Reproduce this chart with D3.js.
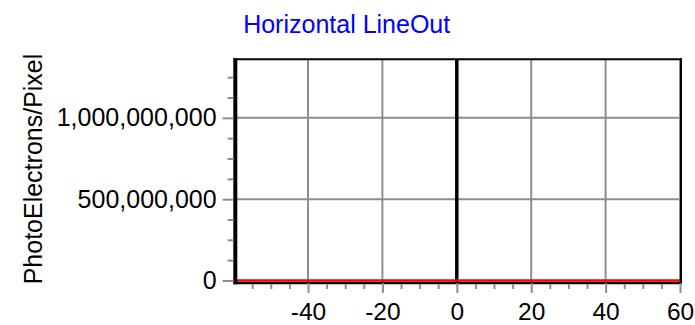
<!DOCTYPE html>
<html>
<head>
<meta charset="utf-8">
<script src="https://cdn.jsdelivr.net/npm/d3@7"></script>
<style>
  body { margin: 0; background: #fff; }
  svg { display: block; }
  text { font-family: "Liberation Sans", Arial, sans-serif; }
</style>
</head>
<body>
<svg id="chart" width="695" height="325"></svg>
<script>
// Horizontal line-out: photo-electron count per pixel along the row
const chartTitle = "Horizontal LineOut";
const yAxisLabel = "PhotoElectrons/Pixel";

const pixelPositions = [-60, -55, -50, -45, -40, -35, -30, -25, -20, -15, -10, -5, 0,
                        5, 10, 15, 20, 25, 30, 35, 40, 45, 50, 55, 60];
const photoElectrons = [0, 0, 0, 0, 0, 0, 0, 0, 0, 0, 0, 0, 0,
                        0, 0, 0, 0, 0, 0, 0, 0, 0, 0, 0, 0];

const xMajorTicks = [-40, -20, 0, 20, 40, 60];
const xMinorTicks = [-55, -50, -45, -35, -30, -25, -15, -10, -5, 5, 10, 15, 25, 30, 35, 45, 50, 55];
const yMajorTicks = [0, 500000000, 1000000000];
const yMinorTicks = [125000000, 250000000, 375000000, 625000000, 750000000, 875000000,
                     1125000000, 1250000000];
const cursorPosition = 0;

const xDomain = [-60, 60];
const yDomain = [0, 1360000000];

const svg = d3.select("#chart");
const plotLeft = 233.6, plotRight = 680, plotTop = 59.3, plotBottom = 280.5;
const axisY = 283;

const x = d3.scaleLinear().domain(xDomain).range([plotLeft, plotRight]);
const y = d3.scaleLinear().domain(yDomain).range([plotBottom, plotTop]);

const gridColor = "#8e8e8e";

// grid
svg.append("g").selectAll("line").data(xMajorTicks).join("line")
  .attr("x1", d => x(d)).attr("x2", d => x(d))
  .attr("y1", plotTop).attr("y2", axisY)
  .attr("stroke", gridColor).attr("stroke-width", 2);
svg.append("g").selectAll("line").data(yMajorTicks.filter(d => d > 0)).join("line")
  .attr("x1", plotLeft).attr("x2", plotRight + 1)
  .attr("y1", d => y(d)).attr("y2", d => y(d))
  .attr("stroke", gridColor).attr("stroke-width", 2);

// frame
svg.append("line").attr("x1", plotLeft).attr("x2", plotRight + 2).attr("y1", plotTop).attr("y2", plotTop)
  .attr("stroke", "#000").attr("stroke-width", 2);
svg.append("line").attr("x1", plotRight + 1).attr("x2", plotRight + 1).attr("y1", plotTop - 1).attr("y2", axisY + 1)
  .attr("stroke", "#000").attr("stroke-width", 2);
svg.append("line").attr("x1", plotLeft).attr("x2", plotRight + 2).attr("y1", axisY).attr("y2", axisY)
  .attr("stroke", "#000").attr("stroke-width", 2.5);

// cursor at the centre column
svg.append("line")
  .attr("x1", x(cursorPosition)).attr("x2", x(cursorPosition))
  .attr("y1", plotTop).attr("y2", axisY)
  .attr("stroke", "#000").attr("stroke-width", 3.5);

// line-out trace
const line = d3.line().x(d => x(d[0])).y(d => y(d[1]));
svg.append("path")
  .datum(pixelPositions.map((p, i) => [p, photoElectrons[i]]))
  .attr("d", line)
  .attr("fill", "none").attr("stroke", "#ff0000").attr("stroke-width", 2.5);

// left axis line
svg.append("line").attr("x1", plotLeft + 1.7).attr("x2", plotLeft + 1.7).attr("y1", plotTop - 1).attr("y2", axisY + 1.2)
  .attr("stroke", "#000").attr("stroke-width", 4);

function styleAxis(g, size) {
  g.select(".domain").remove();
  g.selectAll(".tick line").attr("stroke", gridColor).attr("stroke-width", 2);
  g.selectAll(".tick text").attr("fill", "#000").attr("font-size", size + "px")
    .attr("font-family", "'Liberation Sans', Arial, sans-serif");
}

// x axis (plain hyphen-minus for negative labels)
svg.append("g").attr("transform", `translate(0,${axisY + 1})`)
  .call(d3.axisBottom(x).tickValues(xMinorTicks).tickSize(5).tickFormat(""))
  .call(styleAxis, 24.5);
svg.append("g").attr("transform", `translate(0,${axisY})`)
  .call(d3.axisBottom(x).tickValues(xMajorTicks).tickSize(10).tickPadding(9.5).tickFormat(d => String(d)))
  .call(styleAxis, 24.5);

// y axis
svg.append("g").attr("transform", `translate(${plotLeft},0)`)
  .call(d3.axisLeft(y).tickValues(yMinorTicks).tickSize(6).tickFormat(""))
  .call(styleAxis, 25);
svg.append("g").attr("transform", `translate(${plotLeft},0)`)
  .call(d3.axisLeft(y).tickValues(yMajorTicks).tickSize(11).tickPadding(6).tickFormat(d3.format(",")))
  .call(styleAxis, 25);

// title
svg.append("text").attr("x", 346.7).attr("y", 33).attr("text-anchor", "middle")
  .attr("font-size", "25px").attr("fill", "#0000ff").text(chartTitle);

// y axis title
svg.append("text").attr("transform", "rotate(-90)")
  .attr("x", -169).attr("y", 42).attr("text-anchor", "middle")
  .attr("font-size", "25px").attr("fill", "#000").text(yAxisLabel);
</script>
</body>
</html>
